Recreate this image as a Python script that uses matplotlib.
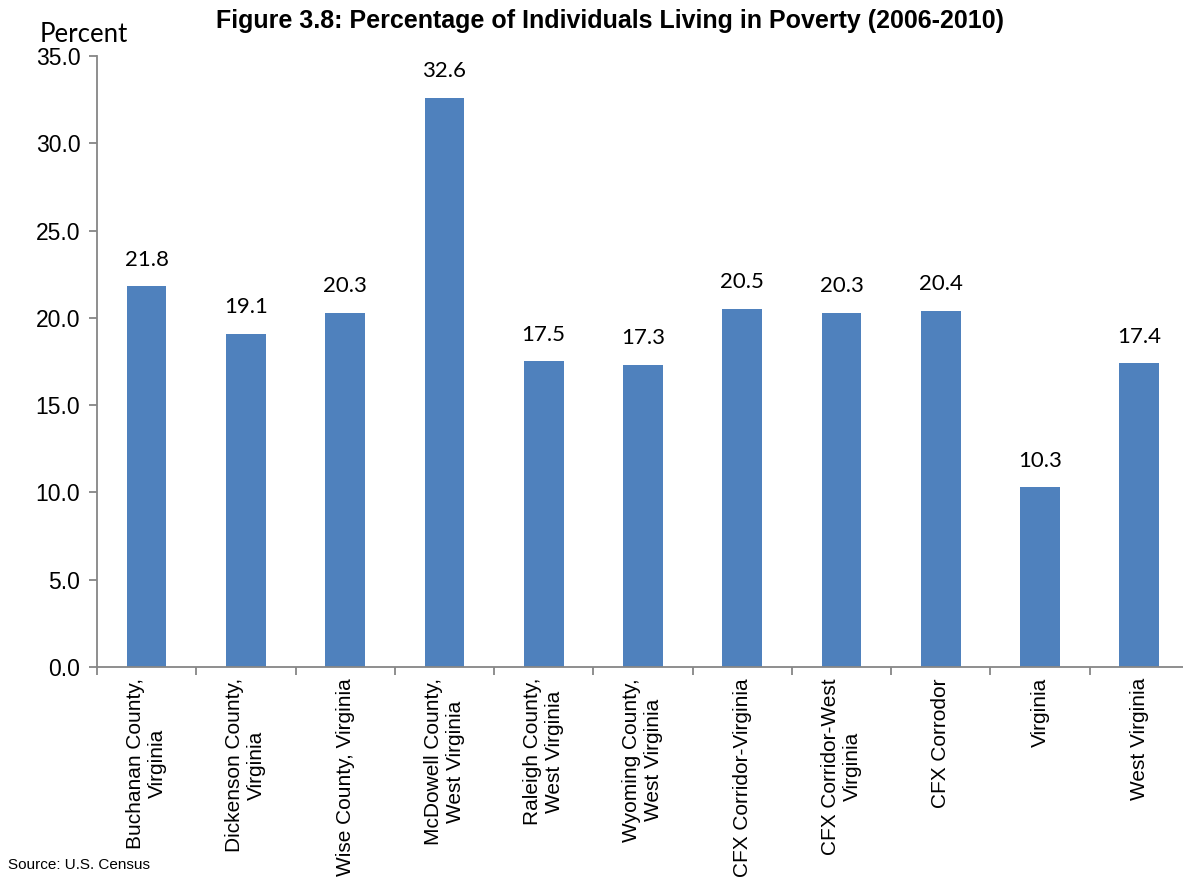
import matplotlib
matplotlib.use("Agg")
import matplotlib.pyplot as plt

categories = ["Buchanan County,\nVirginia", "Dickenson County,\nVirginia", "Wise County, Virginia",
              "McDowell County,\nWest Virginia", "Raleigh County,\nWest Virginia",
              "Wyoming County,\nWest Virginia", "CFX Corridor-Virginia", "CFX Corridor-West\nVirginia",
              "CFX Corrodor", "Virginia", "West Virginia"]
poverty_pct = [21.8, 19.1, 20.3, 32.6, 17.5, 17.3, 20.5, 20.3, 20.4, 10.3, 17.4]
y_ticks = [0, 5, 10, 15, 20, 25, 30, 35]

bar_color = "#4F81BD"
axis_gray = "#868686"

fig = plt.figure(figsize=(11.83, 8.86), dpi=100)
ax = fig.add_axes([0.082, 0.2472, 0.923, 0.6896])

x = list(range(len(categories)))
ax.bar(x, poverty_pct, width=0.4, color=bar_color, zorder=2)

# value labels above each bar
for xi, v in zip(x, poverty_pct):
    ax.annotate("{0:.1f}".format(v), (xi, v), xytext=(0, 12), textcoords="offset points",
                ha="center", va="bottom", fontsize=16, family="Lato", color="black")

ax.set_xlim(-0.5, len(categories) - 0.5)
ax.set_ylim(0, 35)
ax.set_yticks(y_ticks)
ax.set_yticklabels(["{0:.1f}".format(t) for t in y_ticks], fontsize=16.5, family="Liberation Sans")

# category boundaries carry the tick marks, labels sit at the centres
ax.set_xticks([i - 0.5 for i in range(len(categories) + 1)])
ax.set_xticklabels([])
ax.set_xticks(x, minor=True)
ax.set_xticklabels(categories, minor=True, rotation=90, fontsize=15, family="Liberation Sans",
                   ha="center", va="top", multialignment="center")
ax.tick_params(axis="x", which="minor", length=0, pad=8)
ax.tick_params(axis="x", which="major", length=6, color=axis_gray, width=1.3)
ax.tick_params(axis="y", length=6, color=axis_gray, width=1.3, pad=6)

for side in ["top", "right"]:
    ax.spines[side].set_visible(False)
for side in ["left", "bottom"]:
    ax.spines[side].set_color(axis_gray)
    ax.spines[side].set_linewidth(1.3)

fig.text(0.516, 0.9684, "Figure 3.8: Percentage of Individuals Living in Poverty (2006-2010)",
         ha="center", va="baseline", fontsize=18, fontweight="bold", family="Liberation Sans")
fig.text(0.071, 0.9526, "Percent", ha="center", va="baseline", fontsize=18.5, family="Lato")
fig.text(0.007, 0.0192, "Source: U.S. Census", ha="left", va="baseline", fontsize=11,
         family="Liberation Sans")

fig.savefig("out.png", dpi=100)
